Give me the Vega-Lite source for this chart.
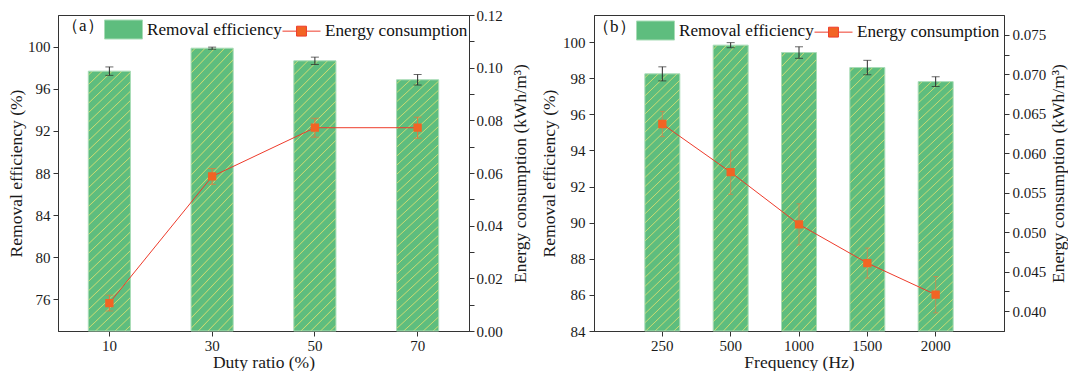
{
  "$schema": "https://vega.github.io/schema/vega-lite/v6.json",
  "padding": {"left": 7, "top": 7, "right": 0, "bottom": 0},
  "bounds": "flush",
  "spacing": 125,
  "config": {
    "font": "Liberation Serif",
    "view": {"stroke": "#333333", "strokeWidth": 1},
    "axis": {
      "labelFont": "Liberation Serif", "labelFontSize": 15, "labelColor": "#1a1a1a",
      "titleFont": "Liberation Serif", "titleFontSize": 17.5, "titleFontWeight": "normal", "titleColor": "#1a1a1a",
      "domainColor": "#333333", "tickColor": "#333333", "grid": false,
      "tickSize": 5, "labelPadding": 3, "titlePadding": 4, "labelOverlap": false
    },
    "legend": {
      "padding": 0, "direction": "horizontal", "titleOrient": "left", "titleBaseline": "middle",
      "titleFont": "Liberation Serif", "titleFontSize": 17, "titleFontWeight": "normal", "titleColor": "#111111", "titlePadding": 0,
      "labelFont": "Liberation Serif", "labelFontSize": 17.2, "labelColor": "#111111", "labelOffset": 4,
      "symbolSize": 1444, "symbolStrokeWidth": 1, "symbolOpacity": 1, "columnPadding": -2
    }
  },
  "resolve": {"scale": {"color": "independent", "shape": "independent", "stroke": "independent"}, "legend": {"color": "independent", "shape": "independent", "stroke": "independent"}},
  "hconcat": [
    {
      "width": 411,
      "height": 316,
      "data": {"values": [
        {"duty": 10, "eff": 97.67, "effErr": 0.4, "energy": 0.0106, "energyErr": 0.003},
        {"duty": 30, "eff": 99.85, "effErr": 0.1, "energy": 0.0587, "energyErr": 0.003},
        {"duty": 50, "eff": 98.65, "effErr": 0.35, "energy": 0.0772, "energyErr": 0.0036},
        {"duty": 70, "eff": 96.85, "effErr": 0.5, "energy": 0.0772, "energyErr": 0.004}
      ]},
      "encoding": {
        "x": {"field": "duty", "type": "ordinal", "title": "Duty ratio (%)",
              "scale": {"paddingInner": 0.59, "paddingOuter": 0.295},
              "axis": {"labelAngle": 0, "labelPadding": 2, "titlePadding": 0}}
      },
      "layer": [
        {
          "encoding": {
            "y": {"field": "eff", "type": "quantitative", "title": "Removal efficiency (%)",
                  "scale": {"domain": [73, 103], "zero": false, "nice": false},
                  "axis": {"values": [76, 80, 84, 88, 92, 96, 100], "titlePadding": 2}}
          },
          "layer": [
            {
              "mark": {
                "type": "bar", "stroke": "#a8dcb6", "strokeWidth": 1,
                "fill": {"gradient": "linear", "x1": 0, "y1": 0, "x2": 0.175, "y2": 1.128, "stops": [
                  {"offset": 0, "color": "#5EBD7E"},
                  {"offset": 0.01, "color": "#5EBD7E"}, {"offset": 0.0135, "color": "#C8DA72"}, {"offset": 0.017, "color": "#5EBD7E"},
                  {"offset": 0.04125, "color": "#5EBD7E"}, {"offset": 0.04475, "color": "#C8DA72"}, {"offset": 0.04825, "color": "#5EBD7E"},
                  {"offset": 0.0725, "color": "#5EBD7E"}, {"offset": 0.076, "color": "#C8DA72"}, {"offset": 0.0795, "color": "#5EBD7E"},
                  {"offset": 0.10375, "color": "#5EBD7E"}, {"offset": 0.10725, "color": "#C8DA72"}, {"offset": 0.11075, "color": "#5EBD7E"},
                  {"offset": 0.135, "color": "#5EBD7E"}, {"offset": 0.1385, "color": "#C8DA72"}, {"offset": 0.142, "color": "#5EBD7E"},
                  {"offset": 0.16625, "color": "#5EBD7E"}, {"offset": 0.16975, "color": "#C8DA72"}, {"offset": 0.17325, "color": "#5EBD7E"},
                  {"offset": 0.1975, "color": "#5EBD7E"}, {"offset": 0.201, "color": "#C8DA72"}, {"offset": 0.2045, "color": "#5EBD7E"},
                  {"offset": 0.22875, "color": "#5EBD7E"}, {"offset": 0.23225, "color": "#C8DA72"}, {"offset": 0.23575, "color": "#5EBD7E"},
                  {"offset": 0.26, "color": "#5EBD7E"}, {"offset": 0.2635, "color": "#C8DA72"}, {"offset": 0.267, "color": "#5EBD7E"},
                  {"offset": 0.29125, "color": "#5EBD7E"}, {"offset": 0.29475, "color": "#C8DA72"}, {"offset": 0.29825, "color": "#5EBD7E"},
                  {"offset": 0.3225, "color": "#5EBD7E"}, {"offset": 0.326, "color": "#C8DA72"}, {"offset": 0.3295, "color": "#5EBD7E"},
                  {"offset": 0.35375, "color": "#5EBD7E"}, {"offset": 0.35725, "color": "#C8DA72"}, {"offset": 0.36075, "color": "#5EBD7E"},
                  {"offset": 0.385, "color": "#5EBD7E"}, {"offset": 0.3885, "color": "#C8DA72"}, {"offset": 0.392, "color": "#5EBD7E"},
                  {"offset": 0.41625, "color": "#5EBD7E"}, {"offset": 0.41975, "color": "#C8DA72"}, {"offset": 0.42325, "color": "#5EBD7E"},
                  {"offset": 0.4475, "color": "#5EBD7E"}, {"offset": 0.451, "color": "#C8DA72"}, {"offset": 0.4545, "color": "#5EBD7E"},
                  {"offset": 0.47875, "color": "#5EBD7E"}, {"offset": 0.48225, "color": "#C8DA72"}, {"offset": 0.48575, "color": "#5EBD7E"},
                  {"offset": 0.51, "color": "#5EBD7E"}, {"offset": 0.5135, "color": "#C8DA72"}, {"offset": 0.517, "color": "#5EBD7E"},
                  {"offset": 0.54125, "color": "#5EBD7E"}, {"offset": 0.54475, "color": "#C8DA72"}, {"offset": 0.54825, "color": "#5EBD7E"},
                  {"offset": 0.5725, "color": "#5EBD7E"}, {"offset": 0.576, "color": "#C8DA72"}, {"offset": 0.5795, "color": "#5EBD7E"},
                  {"offset": 0.60375, "color": "#5EBD7E"}, {"offset": 0.60725, "color": "#C8DA72"}, {"offset": 0.61075, "color": "#5EBD7E"},
                  {"offset": 0.635, "color": "#5EBD7E"}, {"offset": 0.6385, "color": "#C8DA72"}, {"offset": 0.642, "color": "#5EBD7E"},
                  {"offset": 0.66625, "color": "#5EBD7E"}, {"offset": 0.66975, "color": "#C8DA72"}, {"offset": 0.67325, "color": "#5EBD7E"},
                  {"offset": 0.6975, "color": "#5EBD7E"}, {"offset": 0.701, "color": "#C8DA72"}, {"offset": 0.7045, "color": "#5EBD7E"},
                  {"offset": 0.72875, "color": "#5EBD7E"}, {"offset": 0.73225, "color": "#C8DA72"}, {"offset": 0.73575, "color": "#5EBD7E"},
                  {"offset": 0.76, "color": "#5EBD7E"}, {"offset": 0.7635, "color": "#C8DA72"}, {"offset": 0.767, "color": "#5EBD7E"},
                  {"offset": 0.79125, "color": "#5EBD7E"}, {"offset": 0.79475, "color": "#C8DA72"}, {"offset": 0.79825, "color": "#5EBD7E"},
                  {"offset": 0.8225, "color": "#5EBD7E"}, {"offset": 0.826, "color": "#C8DA72"}, {"offset": 0.8295, "color": "#5EBD7E"},
                  {"offset": 0.85375, "color": "#5EBD7E"}, {"offset": 0.85725, "color": "#C8DA72"}, {"offset": 0.86075, "color": "#5EBD7E"},
                  {"offset": 0.885, "color": "#5EBD7E"}, {"offset": 0.8885, "color": "#C8DA72"}, {"offset": 0.892, "color": "#5EBD7E"},
                  {"offset": 0.91625, "color": "#5EBD7E"}, {"offset": 0.91975, "color": "#C8DA72"}, {"offset": 0.92325, "color": "#5EBD7E"},
                  {"offset": 0.9475, "color": "#5EBD7E"}, {"offset": 0.951, "color": "#C8DA72"}, {"offset": 0.9545, "color": "#5EBD7E"},
                  {"offset": 0.97875, "color": "#5EBD7E"}, {"offset": 0.98225, "color": "#C8DA72"}, {"offset": 0.98575, "color": "#5EBD7E"},
                  {"offset": 1, "color": "#5EBD7E"}
                ]}
              },
              "encoding": {"y2": {"datum": 73}}
            },
            {
              "mark": {"type": "errorbar", "color": "#2b2b2b", "ticks": {"size": 8}, "rule": {"strokeWidth": 1}},
              "encoding": {"yError": {"field": "effErr"}}
            }
          ]
        },
        {
          "encoding": {
            "y": {"field": "energy", "type": "quantitative", "title": "Energy consumption (kWh/m³)",
                  "scale": {"domain": [0, 0.12], "nice": false},
                  "axis": {
                    "orient": "right", "titleAngle": 270, "titleBaseline": "top", "titlePadding": 9, "labelPadding": 2,
                    "values": [0, 0.01, 0.02, 0.03, 0.04, 0.05, 0.06, 0.07, 0.08, 0.09, 0.1, 0.11, 0.12],
                    "labelExpr": "round(datum.value*100) % 2 === 0 ? format(datum.value, '.2f') : ''",
                    "encode": {"ticks": {"update": {"x2": {"signal": "round(datum.value*100) % 2 === 0 ? 5 : 3"}}}}
                  }}
          },
          "layer": [
            {
              "mark": {"type": "line", "strokeWidth": 1},
              "encoding": {
                "stroke": {"datum": "Energy consumption",
                           "scale": {"domain": ["Removal efficiency", "Energy consumption"], "range": ["#a8dcb6", "#EE3B2B"]},
                           "legend": {"title": "（a）", "orient": "none", "legendX": 4, "legendY": -5}}
              }
            },
            {
              "mark": {"type": "errorbar", "color": "#E8773A", "ticks": {"size": 8}, "rule": {"strokeWidth": 1}},
              "encoding": {"yError": {"field": "energyErr"}}
            },
            {
              "mark": {"type": "point", "filled": true, "size": 1024, "opacity": 1},
              "encoding": {
                "color": {"datum": "Energy consumption",
                          "scale": {"domain": ["Removal efficiency", "Energy consumption"], "range": ["#5EBD7E", "#F26424"]},
                          "legend": {"title": "（a）", "orient": "none", "legendX": 4, "legendY": -5}},
                "shape": {"datum": "Energy consumption",
                          "scale": {"domain": ["Removal efficiency", "Energy consumption"],
                                    "range": ["M-1,-0.5H1V0.5H-1Z", "M-1,0H-0.26M0.26,0H1M-0.26,-0.26H0.26V0.26H-0.26Z"]},
                          "legend": {"title": "（a）", "orient": "none", "legendX": 4, "legendY": -5}}
              }
            }
          ]
        }
      ],
      "resolve": {"scale": {"y": "independent"}}
    },
    {
      "width": 410,
      "height": 316,
      "data": {"values": [
        {"freq": 250, "eff": 98.24, "effErr": 0.39, "energy": 0.0637, "energyErr": 0.0016},
        {"freq": 500, "eff": 99.83, "effErr": 0.14, "energy": 0.0576, "energyErr": 0.0028},
        {"freq": 1000, "eff": 99.42, "effErr": 0.32, "energy": 0.051, "energyErr": 0.0026},
        {"freq": 1500, "eff": 98.59, "effErr": 0.4, "energy": 0.0461, "energyErr": 0.0019},
        {"freq": 2000, "eff": 97.81, "effErr": 0.27, "energy": 0.0421, "energyErr": 0.0023}
      ]},
      "encoding": {
        "x": {"field": "freq", "type": "ordinal", "title": "Frequency (Hz)",
              "scale": {"paddingInner": 0.488, "paddingOuter": 0.744},
              "axis": {"labelAngle": 0, "labelPadding": 2, "titlePadding": 0}}
      },
      "layer": [
        {
          "encoding": {
            "y": {"field": "eff", "type": "quantitative", "title": "Removal efficiency (%)",
                  "scale": {"domain": [84, 101.5], "zero": false, "nice": false},
                  "axis": {"values": [84, 86, 88, 90, 92, 94, 96, 98, 100], "titlePadding": 4, "labelPadding": 4}}
          },
          "layer": [
            {
              "mark": {
                "type": "bar", "stroke": "#a8dcb6", "strokeWidth": 1,
                "fill": {"gradient": "linear", "x1": 0, "y1": 0, "x2": 0.146, "y2": 1.11, "stops": [
                  {"offset": 0, "color": "#5EBD7E"},
                  {"offset": 0.01, "color": "#5EBD7E"}, {"offset": 0.0135, "color": "#C8DA72"}, {"offset": 0.017, "color": "#5EBD7E"},
                  {"offset": 0.04125, "color": "#5EBD7E"}, {"offset": 0.04475, "color": "#C8DA72"}, {"offset": 0.04825, "color": "#5EBD7E"},
                  {"offset": 0.0725, "color": "#5EBD7E"}, {"offset": 0.076, "color": "#C8DA72"}, {"offset": 0.0795, "color": "#5EBD7E"},
                  {"offset": 0.10375, "color": "#5EBD7E"}, {"offset": 0.10725, "color": "#C8DA72"}, {"offset": 0.11075, "color": "#5EBD7E"},
                  {"offset": 0.135, "color": "#5EBD7E"}, {"offset": 0.1385, "color": "#C8DA72"}, {"offset": 0.142, "color": "#5EBD7E"},
                  {"offset": 0.16625, "color": "#5EBD7E"}, {"offset": 0.16975, "color": "#C8DA72"}, {"offset": 0.17325, "color": "#5EBD7E"},
                  {"offset": 0.1975, "color": "#5EBD7E"}, {"offset": 0.201, "color": "#C8DA72"}, {"offset": 0.2045, "color": "#5EBD7E"},
                  {"offset": 0.22875, "color": "#5EBD7E"}, {"offset": 0.23225, "color": "#C8DA72"}, {"offset": 0.23575, "color": "#5EBD7E"},
                  {"offset": 0.26, "color": "#5EBD7E"}, {"offset": 0.2635, "color": "#C8DA72"}, {"offset": 0.267, "color": "#5EBD7E"},
                  {"offset": 0.29125, "color": "#5EBD7E"}, {"offset": 0.29475, "color": "#C8DA72"}, {"offset": 0.29825, "color": "#5EBD7E"},
                  {"offset": 0.3225, "color": "#5EBD7E"}, {"offset": 0.326, "color": "#C8DA72"}, {"offset": 0.3295, "color": "#5EBD7E"},
                  {"offset": 0.35375, "color": "#5EBD7E"}, {"offset": 0.35725, "color": "#C8DA72"}, {"offset": 0.36075, "color": "#5EBD7E"},
                  {"offset": 0.385, "color": "#5EBD7E"}, {"offset": 0.3885, "color": "#C8DA72"}, {"offset": 0.392, "color": "#5EBD7E"},
                  {"offset": 0.41625, "color": "#5EBD7E"}, {"offset": 0.41975, "color": "#C8DA72"}, {"offset": 0.42325, "color": "#5EBD7E"},
                  {"offset": 0.4475, "color": "#5EBD7E"}, {"offset": 0.451, "color": "#C8DA72"}, {"offset": 0.4545, "color": "#5EBD7E"},
                  {"offset": 0.47875, "color": "#5EBD7E"}, {"offset": 0.48225, "color": "#C8DA72"}, {"offset": 0.48575, "color": "#5EBD7E"},
                  {"offset": 0.51, "color": "#5EBD7E"}, {"offset": 0.5135, "color": "#C8DA72"}, {"offset": 0.517, "color": "#5EBD7E"},
                  {"offset": 0.54125, "color": "#5EBD7E"}, {"offset": 0.54475, "color": "#C8DA72"}, {"offset": 0.54825, "color": "#5EBD7E"},
                  {"offset": 0.5725, "color": "#5EBD7E"}, {"offset": 0.576, "color": "#C8DA72"}, {"offset": 0.5795, "color": "#5EBD7E"},
                  {"offset": 0.60375, "color": "#5EBD7E"}, {"offset": 0.60725, "color": "#C8DA72"}, {"offset": 0.61075, "color": "#5EBD7E"},
                  {"offset": 0.635, "color": "#5EBD7E"}, {"offset": 0.6385, "color": "#C8DA72"}, {"offset": 0.642, "color": "#5EBD7E"},
                  {"offset": 0.66625, "color": "#5EBD7E"}, {"offset": 0.66975, "color": "#C8DA72"}, {"offset": 0.67325, "color": "#5EBD7E"},
                  {"offset": 0.6975, "color": "#5EBD7E"}, {"offset": 0.701, "color": "#C8DA72"}, {"offset": 0.7045, "color": "#5EBD7E"},
                  {"offset": 0.72875, "color": "#5EBD7E"}, {"offset": 0.73225, "color": "#C8DA72"}, {"offset": 0.73575, "color": "#5EBD7E"},
                  {"offset": 0.76, "color": "#5EBD7E"}, {"offset": 0.7635, "color": "#C8DA72"}, {"offset": 0.767, "color": "#5EBD7E"},
                  {"offset": 0.79125, "color": "#5EBD7E"}, {"offset": 0.79475, "color": "#C8DA72"}, {"offset": 0.79825, "color": "#5EBD7E"},
                  {"offset": 0.8225, "color": "#5EBD7E"}, {"offset": 0.826, "color": "#C8DA72"}, {"offset": 0.8295, "color": "#5EBD7E"},
                  {"offset": 0.85375, "color": "#5EBD7E"}, {"offset": 0.85725, "color": "#C8DA72"}, {"offset": 0.86075, "color": "#5EBD7E"},
                  {"offset": 0.885, "color": "#5EBD7E"}, {"offset": 0.8885, "color": "#C8DA72"}, {"offset": 0.892, "color": "#5EBD7E"},
                  {"offset": 0.91625, "color": "#5EBD7E"}, {"offset": 0.91975, "color": "#C8DA72"}, {"offset": 0.92325, "color": "#5EBD7E"},
                  {"offset": 0.9475, "color": "#5EBD7E"}, {"offset": 0.951, "color": "#C8DA72"}, {"offset": 0.9545, "color": "#5EBD7E"},
                  {"offset": 0.97875, "color": "#5EBD7E"}, {"offset": 0.98225, "color": "#C8DA72"}, {"offset": 0.98575, "color": "#5EBD7E"},
                  {"offset": 1, "color": "#5EBD7E"}
                ]}
              },
              "encoding": {"y2": {"datum": 84}}
            },
            {
              "mark": {"type": "errorbar", "color": "#2b2b2b", "ticks": {"size": 8}, "rule": {"strokeWidth": 1}},
              "encoding": {"yError": {"field": "effErr"}}
            }
          ]
        },
        {
          "encoding": {
            "y": {"field": "energy", "type": "quantitative", "title": "Energy consumption (kWh/m³)",
                  "scale": {"domain": [0.0375, 0.0775], "zero": false, "nice": false},
                  "axis": {
                    "orient": "right", "titleAngle": 270, "titleBaseline": "top", "titlePadding": 4, "labelPadding": 3,
                    "values": [0.04, 0.0425, 0.045, 0.0475, 0.05, 0.0525, 0.055, 0.0575, 0.06, 0.0625, 0.065, 0.0675, 0.07, 0.0725, 0.075],
                    "labelExpr": "round(datum.value*10000) % 50 === 0 ? format(datum.value, '.3f') : ''",
                    "encode": {"ticks": {"update": {"x2": {"signal": "round(datum.value*10000) % 50 === 0 ? 5 : 3"}}}}
                  }}
          },
          "layer": [
            {
              "mark": {"type": "line", "strokeWidth": 1},
              "encoding": {
                "stroke": {"datum": "Energy consumption",
                           "scale": {"domain": ["Removal efficiency", "Energy consumption"], "range": ["#a8dcb6", "#EE3B2B"]},
                           "legend": {"title": "（b）", "orient": "none", "legendX": -1, "legendY": -4}}
              }
            },
            {
              "mark": {"type": "errorbar", "color": "#D9824A", "opacity": 0.75, "ticks": {"size": 5}, "rule": {"strokeWidth": 1}},
              "encoding": {"yError": {"field": "energyErr"}}
            },
            {
              "mark": {"type": "point", "filled": true, "size": 1024, "opacity": 1},
              "encoding": {
                "color": {"datum": "Energy consumption",
                          "scale": {"domain": ["Removal efficiency", "Energy consumption"], "range": ["#5EBD7E", "#F26424"]},
                          "legend": {"title": "（b）", "orient": "none", "legendX": -1, "legendY": -4}},
                "shape": {"datum": "Energy consumption",
                          "scale": {"domain": ["Removal efficiency", "Energy consumption"],
                                    "range": ["M-1,-0.5H1V0.5H-1Z", "M-1,0H-0.26M0.26,0H1M-0.26,-0.26H0.26V0.26H-0.26Z"]},
                          "legend": {"title": "（b）", "orient": "none", "legendX": -1, "legendY": -4}}
              }
            }
          ]
        }
      ],
      "resolve": {"scale": {"y": "independent"}}
    }
  ]
}
